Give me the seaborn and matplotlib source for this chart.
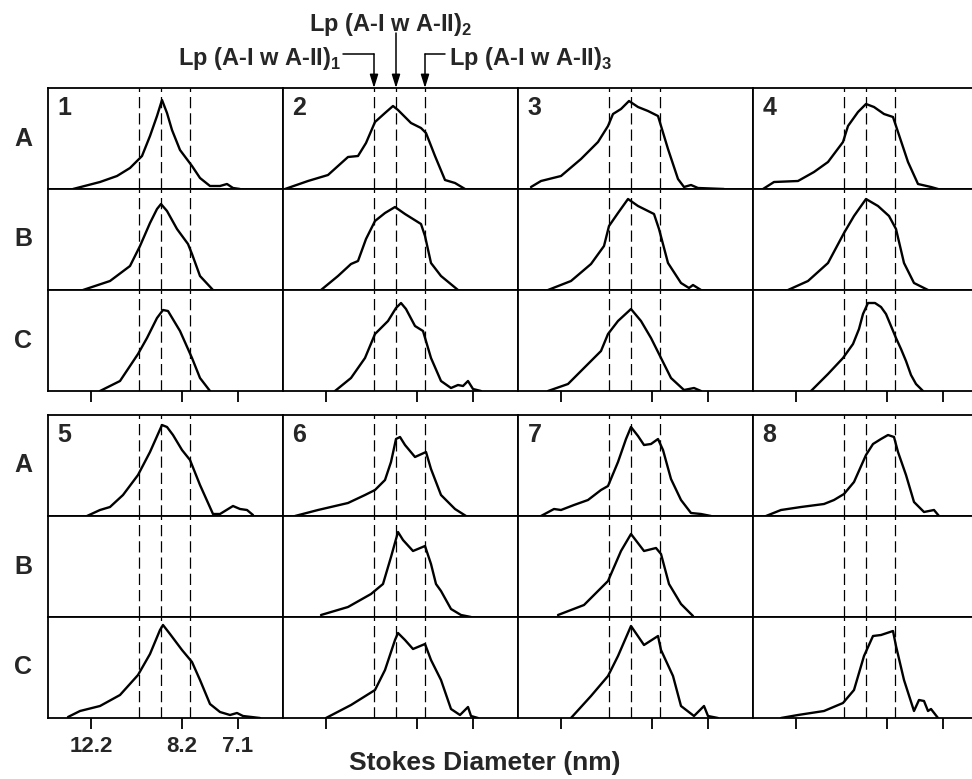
import matplotlib
matplotlib.use('Agg')
import matplotlib.pyplot as plt
import seaborn as sns

# gel scans: x = migration distance within a lane window (0-235), y = absorbance (arb.)
P1A_X = [25, 52, 69, 82, 94, 102, 109, 114, 119, 124, 132, 144, 152, 162, 172, 179, 185, 192]
P1A_Y = [0, 7, 13, 21, 33, 53, 73, 89, 76, 59, 39, 23, 11, 3, 3, 5, 1, 0]
P1B_X = [35, 62, 82, 92, 102, 109, 113, 119, 129, 140, 144, 152, 165]
P1B_Y = [0, 9, 24, 44, 67, 81, 86, 79, 61, 46, 36, 14, 0]
P1C_X = [52, 72, 90, 99, 109, 115, 120, 132, 144, 152, 162]
P1C_Y = [0, 10, 37, 53, 73, 81, 80, 60, 33, 13, 0]

P2A_X = [2, 25, 45, 55, 65, 75, 83, 92, 102, 110, 115, 128, 138, 143, 152, 162, 172, 182]
P2A_Y = [0, 8, 14, 23, 32, 33, 46, 67, 76, 83, 79, 66, 61, 56, 33, 9, 6, 0]
P2B_X = [38, 55, 68, 75, 83, 92, 102, 112, 122, 138, 142, 148, 158, 175]
P2B_Y = [0, 14, 26, 29, 51, 69, 77, 83, 76, 66, 54, 27, 14, 0]
P2C_X = [52, 68, 82, 92, 105, 113, 118, 123, 132, 140, 148, 158, 168, 175, 180, 185, 190, 198]
P2C_Y = [0, 13, 33, 57, 70, 83, 88, 82, 65, 60, 33, 10, 3, 6, 5, 10, 2, 0]

P3A_X = [13, 23, 43, 63, 80, 90, 95, 103, 111, 120, 130, 140, 150, 160, 166, 173, 180, 206]
P3A_Y = [2, 8, 13, 30, 47, 63, 75, 80, 88, 82, 78, 73, 40, 10, 2, 4, 1, 0]
P3B_X = [30, 53, 73, 86, 91, 100, 110, 120, 136, 141, 150, 163, 171, 175, 183]
P3B_Y = [0, 9, 26, 44, 64, 77, 91, 84, 76, 61, 27, 7, 2, 5, 0]
P3C_X = [30, 50, 70, 83, 90, 100, 113, 123, 133, 143, 153, 166, 176, 183]
P3C_Y = [0, 7, 27, 40, 57, 70, 82, 70, 53, 33, 13, 1, 3, 0]

P4A_X = [10, 21, 45, 61, 75, 90, 95, 105, 113, 121, 131, 140, 145, 155, 165, 178, 185]
P4A_Y = [0, 7, 8, 17, 27, 47, 63, 77, 85, 82, 75, 72, 57, 27, 5, 2, 0]
P4B_X = [35, 55, 75, 91, 101, 113, 125, 136, 143, 151, 161, 175]
P4B_Y = [0, 9, 27, 57, 74, 91, 84, 74, 61, 27, 7, 0]
P4C_X = [58, 75, 90, 100, 106, 110, 115, 122, 128, 133, 143, 148, 153, 158, 163, 170]
P4C_Y = [0, 17, 33, 47, 62, 77, 88, 88, 84, 77, 53, 42, 30, 16, 7, 0]

P5A_X = [39, 52, 62, 75, 90, 102, 114, 119, 125, 134, 142, 152, 165, 172, 185, 192, 199, 205]
P5A_Y = [0, 6, 9, 21, 41, 64, 91, 89, 81, 66, 56, 31, 2, 2, 10, 7, 6, 1]
P5C_X = [20, 32, 52, 72, 90, 102, 112, 115, 122, 134, 144, 152, 162, 172, 182, 189, 195, 212]
P5C_Y = [1, 7, 12, 23, 43, 64, 88, 93, 84, 68, 56, 38, 14, 6, 3, 5, 2, 0]

P6A_X = [12, 35, 65, 82, 92, 102, 108, 113, 117, 122, 132, 143, 148, 158, 172, 183]
P6A_Y = [0, 6, 13, 21, 26, 36, 54, 77, 79, 71, 59, 64, 47, 21, 7, 0]
P6B_X = [38, 65, 88, 100, 108, 115, 120, 130, 142, 148, 153, 158, 168, 178, 188]
P6B_Y = [2, 10, 23, 33, 60, 85, 77, 66, 71, 53, 33, 26, 8, 2, 0]
P6C_X = [43, 68, 92, 102, 112, 115, 122, 130, 142, 148, 158, 168, 177, 185, 188, 195]
P6C_Y = [0, 13, 28, 48, 78, 85, 78, 69, 74, 58, 38, 9, 3, 11, 2, 0]

P7A_X = [23, 36, 43, 56, 70, 83, 90, 100, 108, 113, 120, 126, 133, 140, 145, 153, 163, 173, 183, 193]
P7A_Y = [0, 7, 6, 11, 16, 26, 30, 54, 77, 89, 80, 71, 72, 77, 66, 37, 16, 3, 2, 0]
P7B_X = [40, 66, 90, 103, 113, 126, 138, 143, 151, 163, 175]
P7B_Y = [2, 12, 36, 66, 83, 66, 69, 63, 33, 13, 1]
P7C_X = [53, 73, 90, 100, 113, 126, 140, 143, 155, 163, 176, 186, 190, 200]
P7C_Y = [0, 22, 42, 62, 92, 73, 82, 68, 42, 12, 2, 12, 2, 0]

P8A_X = [13, 28, 48, 71, 81, 91, 101, 113, 120, 128, 135, 141, 145, 153, 161, 171, 181, 186]
P8A_Y = [0, 6, 9, 12, 16, 22, 34, 61, 72, 77, 81, 79, 64, 41, 14, 4, 6, 0]
P8C_X = [28, 45, 71, 90, 101, 111, 120, 128, 140, 143, 151, 161, 166, 171, 175, 178, 185]
P8C_Y = [0, 3, 7, 15, 28, 62, 82, 83, 87, 72, 38, 7, 18, 17, 7, 9, 0]

PANELS = [1, 2, 3, 4, 5, 6, 7, 8]
ROWS = ['A', 'B', 'C']
LP_POS = [91, 113, 142]            # Lp (A-I w A-II)1, 2, 3
TICK_POS = [43, 134, 190]
TICK_LABELS = ['12.2', '8.2', '7.1']
LP_LABELS = [r'Lp (A-I w A-II)$_\mathbf{1}$', r'Lp (A-I w A-II)$_\mathbf{2}$',
             r'Lp (A-I w A-II)$_\mathbf{3}$']

curves = {
    (1, 'A'): (P1A_X, P1A_Y), (1, 'B'): (P1B_X, P1B_Y), (1, 'C'): (P1C_X, P1C_Y),
    (2, 'A'): (P2A_X, P2A_Y), (2, 'B'): (P2B_X, P2B_Y), (2, 'C'): (P2C_X, P2C_Y),
    (3, 'A'): (P3A_X, P3A_Y), (3, 'B'): (P3B_X, P3B_Y), (3, 'C'): (P3C_X, P3C_Y),
    (4, 'A'): (P4A_X, P4A_Y), (4, 'B'): (P4B_X, P4B_Y), (4, 'C'): (P4C_X, P4C_Y),
    (5, 'A'): (P5A_X, P5A_Y), (5, 'C'): (P5C_X, P5C_Y),
    (6, 'A'): (P6A_X, P6A_Y), (6, 'B'): (P6B_X, P6B_Y), (6, 'C'): (P6C_X, P6C_Y),
    (7, 'A'): (P7A_X, P7A_Y), (7, 'B'): (P7B_X, P7B_Y), (7, 'C'): (P7C_X, P7C_Y),
    (8, 'A'): (P8A_X, P8A_Y), (8, 'C'): (P8C_X, P8C_Y),
}

sns.set_style('white')
plt.rcParams['font.family'] = ['Liberation Sans', 'DejaVu Sans']
plt.rcParams['mathtext.fontset'] = 'custom'
plt.rcParams['mathtext.rm'] = 'Liberation Sans'
plt.rcParams['mathtext.bf'] = 'Liberation Sans:bold'

W, H = 972, 779
fig = plt.figure(figsize=(W / 100, H / 100), dpi=100)

LEFT = 48
COL_W = 235
ROW_H = 101
BLOCK_TOP = [88, 415]


def px_axes(left, top, w, h):
    return fig.add_axes([left / W, 1 - (top + h) / H, w / W, h / H])


axes = {}
for b in range(2):
    for c in range(4):
        panel = PANELS[b * 4 + c]
        for r, row in enumerate(ROWS):
            top = BLOCK_TOP[b] + r * ROW_H
            ax = px_axes(LEFT + c * COL_W, top, COL_W, ROW_H)
            ax.set_xlim(0, COL_W)
            ax.set_ylim(0, ROW_H)
            ax.set_facecolor('white')
            for p in LP_POS:
                ax.axvline(p, color='black', lw=0.9, ls=(0, (9, 4)), zorder=1)
            if (panel, row) in curves:
                xs, ys = curves[(panel, row)]
                sns.lineplot(x=xs, y=ys, ax=ax, color='black', lw=1.7,
                             estimator=None, sort=False, zorder=3,
                             solid_joinstyle='round', solid_capstyle='round')
            ax.set_xlabel('')
            ax.set_ylabel('')
            for s in ax.spines.values():
                s.set_color('black')
                s.set_linewidth(1.3)
            ax.set_yticks([])
            if r == 2:
                ax.set_xticks(TICK_POS)
                ax.set_xticklabels(TICK_LABELS if panel == 5 else [])
                ax.tick_params(axis='x', bottom=True, direction='out', length=8,
                               width=1.3, color='black', pad=5, labelsize=16)
                for t in ax.get_xticklabels():
                    t.set_fontweight('bold')
            else:
                ax.set_xticks([])
            if r == 0:
                ax.text(0.04, 0.8, str(panel), transform=ax.transAxes, fontsize=18,
                        fontweight='bold', ha='left', va='center')
            if c == 0:
                fig.text(23 / W, 1 - (top + ROW_H / 2) / H, row, fontsize=18,
                         fontweight='bold', ha='center', va='center')
            axes[(panel, row)] = ax

# arrows pointing to the three Lp(A-I w A-II) subclasses, above panel 2
ax2 = axes[(2, 'A')]
tr = ax2.get_xaxis_transform()


def above(px):
    return 1 + px / ROW_H


arrow = dict(arrowstyle='-|>,head_length=0.8,head_width=0.25', color='black', lw=1.1,
             shrinkA=0, shrinkB=0)
# 1: elbow from the left
ax2.plot([60, LP_POS[0]], [above(34)] * 2, color='black', lw=1.1, transform=tr, clip_on=False)
ax2.annotate('', xy=(LP_POS[0], 1), xytext=(LP_POS[0], above(34)), xycoords=tr,
             textcoords=tr, arrowprops=arrow, annotation_clip=False)
ax2.text(58, above(30), LP_LABELS[0], transform=tr, ha='right', va='center',
         fontsize=17, fontweight='bold')
# 2: straight down
ax2.annotate('', xy=(LP_POS[1], 1), xytext=(LP_POS[1], above(55)), xycoords=tr,
             textcoords=tr, arrowprops=arrow, annotation_clip=False)
ax2.text(LP_POS[1] - 5, above(64), LP_LABELS[1], transform=tr, ha='center', va='center',
         fontsize=17, fontweight='bold')
# 3: elbow from the right
ax2.plot([LP_POS[2], 162], [above(34)] * 2, color='black', lw=1.1, transform=tr, clip_on=False)
ax2.annotate('', xy=(LP_POS[2], 1), xytext=(LP_POS[2], above(34)), xycoords=tr,
             textcoords=tr, arrowprops=arrow, annotation_clip=False)
ax2.text(166, above(30), LP_LABELS[2], transform=tr, ha='left', va='center',
         fontsize=17, fontweight='bold')

fig.text(485 / W, 1 - 763 / H, 'Stokes Diameter (nm)', ha='center', va='center',
         fontsize=19, fontweight='bold')

fig.savefig('out.png', dpi=100)
